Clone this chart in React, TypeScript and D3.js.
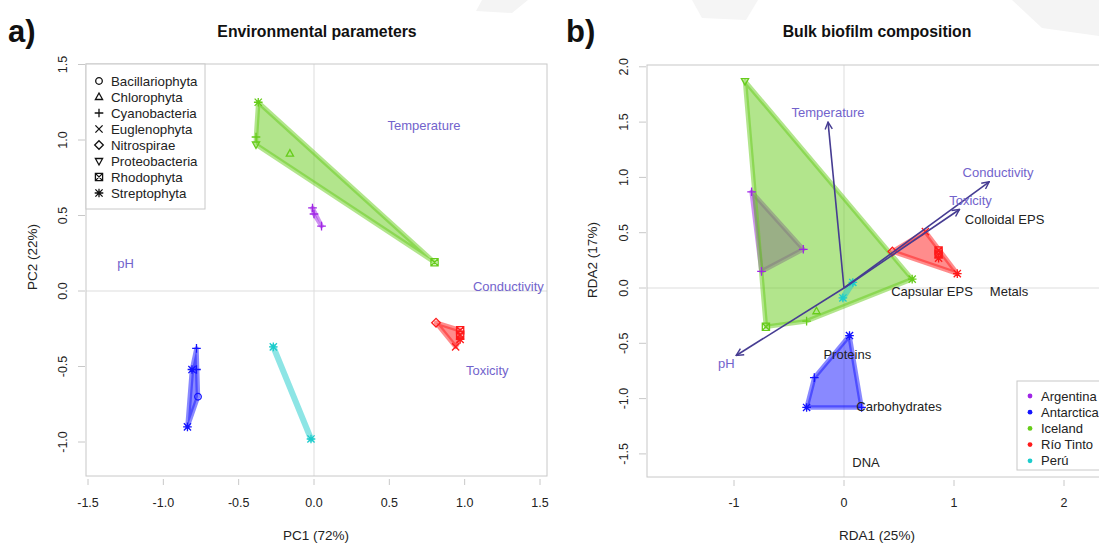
import React from "react";
import * as d3 from "d3";

// ---------- data ----------
const taxa = ["Bacillariophyta", "Chlorophyta", "Cyanobacteria", "Euglenophyta", "Nitrospirae", "Proteobacteria", "Rhodophyta", "Streptophyta"];
const taxonShapes = ["circle", "triUp", "plus", "cross", "diamond", "triDown", "squareX", "asterisk"];
const sites = ["Argentina", "Antarctica", "Iceland", "Río Tinto", "Perú"];
const siteColors = ["#A025E6", "#1414FF", "#66CC1A", "#FF1A1A", "#1CCCCC"];

// Panel a: PCA
const pcaSite = ["Iceland", "Iceland", "Iceland", "Iceland", "Iceland",
  "Argentina", "Argentina", "Argentina",
  "Antarctica", "Antarctica", "Antarctica", "Antarctica", "Antarctica",
  "Perú", "Perú",
  "Río Tinto", "Río Tinto", "Río Tinto", "Río Tinto", "Río Tinto"];
const pcaTaxon = ["Streptophyta", "Cyanobacteria", "Proteobacteria", "Chlorophyta", "Rhodophyta",
  "Cyanobacteria", "Cyanobacteria", "Cyanobacteria",
  "Cyanobacteria", "Streptophyta", "Cyanobacteria", "Bacillariophyta", "Streptophyta",
  "Streptophyta", "Streptophyta",
  "Nitrospirae", "Rhodophyta", "Rhodophyta", "Streptophyta", "Euglenophyta"];
const pcaX = [-0.37, -0.385, -0.385, -0.16, 0.80, -0.01, 0.0, 0.05, -0.78, -0.81, -0.78, -0.77, -0.84, -0.27, -0.02, 0.81, 0.97, 0.97, 0.97, 0.94];
const pcaY = [1.25, 1.02, 0.97, 0.91, 0.19, 0.55, 0.51, 0.43, -0.38, -0.52, -0.52, -0.70, -0.90, -0.37, -0.98, -0.21, -0.26, -0.29, -0.32, -0.37];

const pcaVars = ["Temperature", "pH", "Conductivity", "Toxicity"];
const pcaVarX = [0.73, -1.25, 1.29, 1.15];
const pcaVarY = [1.10, 0.185, 0.03, -0.52];

const pcaTicksX = [-1.5, -1.0, -0.5, 0.0, 0.5, 1.0, 1.5];
const pcaTicksY = [-1.0, -0.5, 0.0, 0.5, 1.0, 1.5];

// Panel b: RDA
const rdaSite = ["Iceland", "Iceland", "Iceland", "Iceland", "Iceland",
  "Argentina", "Argentina", "Argentina",
  "Río Tinto", "Río Tinto", "Río Tinto", "Río Tinto", "Río Tinto", "Río Tinto",
  "Perú", "Perú",
  "Antarctica", "Antarctica", "Antarctica", "Antarctica"];
const rdaTaxon = ["Proteobacteria", "Rhodophyta", "Cyanobacteria", "Chlorophyta", "Streptophyta",
  "Cyanobacteria", "Cyanobacteria", "Cyanobacteria",
  "Nitrospirae", "Euglenophyta", "Rhodophyta", "Rhodophyta", "Streptophyta", "Streptophyta",
  "Streptophyta", "Streptophyta",
  "Streptophyta", "Cyanobacteria", "Streptophyta", "Cyanobacteria"];
const rdaX = [-0.90, -0.71, -0.34, -0.25, 0.62, -0.84, -0.37, -0.75, 0.44, 0.74, 0.86, 0.86, 0.86, 1.03, 0.08, -0.01, 0.05, -0.27, -0.34, 0.16];
const rdaY = [1.87, -0.35, -0.30, -0.21, 0.08, 0.87, 0.35, 0.15, 0.33, 0.51, 0.34, 0.31, 0.27, 0.13, 0.05, -0.09, -0.43, -0.81, -1.08, -1.08];

const rdaVars = ["Temperature", "pH", "Conductivity", "Toxicity"];
const rdaArrowX = [-0.145, -0.98, 1.32, 1.05];
const rdaArrowY = [1.50, -0.61, 0.96, 0.71];
const rdaVarLabelX = [-0.145, -1.07, 1.40, 1.15];
const rdaVarLabelY = [1.59, -0.68, 1.05, 0.80];

const responses = ["Colloidal EPS", "Capsular EPS", "Metals", "Proteins", "Carbohydrates", "DNA"];
const responseX = [1.46, 0.80, 1.50, 0.03, 0.50, 0.20];
const responseY = [0.62, -0.03, -0.03, -0.60, -1.07, -1.57];

const rdaTicksX = [-1, 0, 1, 2];
const rdaTicksY = [-1.5, -1.0, -0.5, 0.0, 0.5, 1.0, 1.5, 2.0];

// ---------- helpers ----------
const FONT = "'Liberation Sans', Arial, Helvetica, sans-serif";
const colorOf = (s: string) => siteColors[sites.indexOf(s)];
const shapeOf = (t: string) => taxonShapes[taxa.indexOf(t)];

function Symbol({ shape, x, y, color }: { shape: string; x: number; y: number; color: string }) {
  const s = 3.6;
  const common = { stroke: color, strokeWidth: 1.3, fill: "none" };
  let el: React.ReactNode = null;
  switch (shape) {
    case "circle":
      el = <circle cx={0} cy={0} r={3.3} {...common} />;
      break;
    case "triUp":
      el = <path d={`M0,${-s * 1.1}L${s},${s * 0.7}L${-s},${s * 0.7}Z`} {...common} />;
      break;
    case "triDown":
      el = <path d={`M0,${s * 1.1}L${s},${-s * 0.7}L${-s},${-s * 0.7}Z`} {...common} />;
      break;
    case "plus":
      el = <path d={`M${-s * 1.2},0H${s * 1.2}M0,${-s * 1.2}V${s * 1.2}`} {...common} />;
      break;
    case "cross":
      el = <path d={`M${-s},${-s}L${s},${s}M${-s},${s}L${s},${-s}`} {...common} />;
      break;
    case "diamond":
      el = <path d={`M0,${-s * 1.2}L${s * 1.2},0L0,${s * 1.2}L${-s * 1.2},0Z`} {...common} />;
      break;
    case "squareX":
      el = <path d={`M${-s},${-s}H${s}V${s}H${-s}ZM${-s},${-s}L${s},${s}M${-s},${s}L${s},${-s}`} {...common} />;
      break;
    case "asterisk":
      el = <path d={`M${-s * 1.2},0H${s * 1.2}M0,${-s * 1.2}V${s * 1.2}M${-s},${-s}L${s},${s}M${-s},${s}L${s},${-s}`} {...common} />;
      break;
  }
  return <g transform={`translate(${x},${y})`}>{el}</g>;
}

function Hulls({ siteArr, xs, ys, sx, sy }: any) {
  return (
    <g>
      {sites.map((site) => {
        const pts: [number, number][] = [];
        siteArr.forEach((s: string, i: number) => {
          if (s === site) pts.push([sx(xs[i]), sy(ys[i])]);
        });
        const c = colorOf(site);
        if (pts.length === 0) return null;
        if (pts.length < 3) {
          return (
            <line key={site} x1={pts[0][0]} y1={pts[0][1]} x2={pts[pts.length - 1][0]} y2={pts[pts.length - 1][1]}
              stroke={c} strokeOpacity={0.5} strokeWidth={6} strokeLinecap="round" />
          );
        }
        const hull = d3.polygonHull(pts) || pts;
        const d = "M" + hull.map((p) => p.join(",")).join("L") + "Z";
        return (
          <path key={site} d={d} fill={c} fillOpacity={0.5} stroke={c} strokeOpacity={0.5} strokeWidth={4.5} strokeLinejoin="round" />
        );
      })}
    </g>
  );
}

// ---------- App ----------
export default function App() {
  // Panel a scales
  const aBox = { l: 86, r: 547, t: 64, b: 476 };
  const ax = d3.scaleLinear().domain([-1.5, 1.5]).range([88, 540]);
  const ay = d3.scaleLinear().domain([0, 1.5]).range([291, 64.5]);

  // Panel b scales
  const bBox = { l: 647, r: 1110, t: 65, b: 477 };
  const bx = d3.scaleLinear().domain([0, 1]).range([844, 954]);
  const by = d3.scaleLinear().domain([0, 1]).range([288, 177.4]);

  const grey = "#c8c8c8";
  const txt = "#222";
  const varCol = "#7263CC";
  const arrowCol = "#463C92";

  return (
    <svg width={1099} height={543} style={{ position: "absolute", left: 0, top: 0, background: "#fff" }} fontFamily={FONT}>
      <defs>
        <marker id="arrowhead" viewBox="0 0 10 10" refX={9} refY={5} markerWidth={9} markerHeight={9} orient="auto" markerUnits="userSpaceOnUse">
          <path d="M1,1L9,5L1,9" fill="none" stroke={arrowCol} strokeWidth={1.6} />
        </marker>
        <clipPath id="clipB">
          <rect x={bBox.l} y={bBox.t} width={bBox.r - bBox.l} height={bBox.b - bBox.t} />
        </clipPath>
      </defs>
      <rect x={0} y={0} width={1099} height={543} fill="#fff" />

      {/* faint watermark shapes */}
      <path d="M482,0L528,0L512,13L476,11Z" fill="#f4f4f4" />
      <path d="M692,0L758,0L746,20L702,18Z" fill="#f5f5f5" />
      <path d="M1012,0L1099,0L1099,36L1042,28Z" fill="#f4f4f4" />

      {/* ====== Panel a ====== */}
      <text x={8} y={42} fontSize={31} fontWeight="bold" fill="#111">a)</text>
      <text x={317} y={37} fontSize={15.8} fontWeight="bold" textAnchor="middle" fill="#111">Environmental parameters</text>

      {/* zero lines */}
      <line x1={ax(0)} x2={ax(0)} y1={aBox.t} y2={aBox.b} stroke="#ddd" strokeWidth={1} />
      <line x1={aBox.l} x2={aBox.r} y1={ay(0)} y2={ay(0)} stroke="#ddd" strokeWidth={1} />

      {/* box */}
      <rect x={aBox.l} y={aBox.t} width={aBox.r - aBox.l} height={aBox.b - aBox.t} fill="none" stroke={grey} strokeWidth={1} />

      {/* axes */}
      {pcaTicksX.map((t) => (
        <g key={"ax" + t}>
          <line x1={ax(t)} x2={ax(t)} y1={aBox.b + 3} y2={aBox.b + 9} stroke={grey} />
          <text x={ax(t)} y={507} fontSize={12.5} textAnchor="middle" fill={txt}>{t.toFixed(1)}</text>
        </g>
      ))}
      {pcaTicksY.map((t) => (
        <g key={"ay" + t}>
          <line x1={aBox.l - 8} x2={aBox.l - 1} y1={ay(t)} y2={ay(t)} stroke={grey} />
          <text transform={`translate(67,${ay(t)}) rotate(-90)`} fontSize={12.5} textAnchor="middle" fill={txt}>{t.toFixed(1)}</text>
        </g>
      ))}
      <text x={316} y={540} fontSize={13.5} textAnchor="middle" fill={txt}>PC1 (72%)</text>
      <text transform={`translate(37,257) rotate(-90)`} fontSize={13.5} textAnchor="middle" fill={txt}>PC2 (22%)</text>

      {/* hulls and points */}
      <Hulls siteArr={pcaSite} xs={pcaX} ys={pcaY} sx={ax} sy={ay} />
      {pcaX.map((v, i) => (
        <Symbol key={"pa" + i} shape={shapeOf(pcaTaxon[i])} x={ax(v)} y={ay(pcaY[i])} color={colorOf(pcaSite[i])} />
      ))}

      {/* env variables */}
      {pcaVars.map((v, i) => (
        <text key={"pv" + v} x={ax(pcaVarX[i])} y={ay(pcaVarY[i]) + 5} fontSize={13} textAnchor="middle" fill={varCol}>{v}</text>
      ))}

      {/* legend a */}
      <rect x={aBox.l} y={aBox.t} width={119} height={145} fill="#fff" stroke={grey} strokeWidth={1} />
      {taxa.map((t, i) => (
        <g key={"la" + t}>
          <Symbol shape={taxonShapes[i]} x={99} y={81 + i * 16} color="#111" />
          <text x={111} y={81 + i * 16 + 4.5} fontSize={13.3} fill={txt}>{t}</text>
        </g>
      ))}

      {/* ====== Panel b ====== */}
      <text x={566} y={42} fontSize={31} fontWeight="bold" fill="#111">b)</text>
      <text x={877} y={37} fontSize={15.8} fontWeight="bold" textAnchor="middle" fill="#111">Bulk biofilm composition</text>

      <line x1={bx(0)} x2={bx(0)} y1={bBox.t} y2={bBox.b} stroke="#ddd" strokeWidth={1} />
      <line x1={bBox.l} x2={bBox.r} y1={by(0)} y2={by(0)} stroke="#ddd" strokeWidth={1} />
      <rect x={bBox.l} y={bBox.t} width={bBox.r - bBox.l} height={bBox.b - bBox.t} fill="none" stroke={grey} strokeWidth={1} />

      {rdaTicksX.map((t) => (
        <g key={"bx" + t}>
          <line x1={bx(t)} x2={bx(t)} y1={bBox.b + 3} y2={bBox.b + 9} stroke={grey} />
          <text x={bx(t)} y={507} fontSize={12.5} textAnchor="middle" fill={txt}>{t}</text>
        </g>
      ))}
      {rdaTicksY.map((t) => (
        <g key={"by" + t}>
          <line x1={bBox.l - 8} x2={bBox.l - 1} y1={by(t)} y2={by(t)} stroke={grey} />
          <text transform={`translate(628,${by(t)}) rotate(-90)`} fontSize={12.5} textAnchor="middle" fill={txt}>{t.toFixed(1)}</text>
        </g>
      ))}
      <text x={877} y={540} fontSize={13.5} textAnchor="middle" fill={txt}>RDA1 (25%)</text>
      <text transform={`translate(597,260) rotate(-90)`} fontSize={13.5} textAnchor="middle" fill={txt}>RDA2 (17%)</text>

      <g clipPath="url(#clipB)">
        <Hulls siteArr={rdaSite} xs={rdaX} ys={rdaY} sx={bx} sy={by} />
        {rdaX.map((v, i) => (
          <Symbol key={"pb" + i} shape={shapeOf(rdaTaxon[i])} x={bx(v)} y={by(rdaY[i])} color={colorOf(rdaSite[i])} />
        ))}

        {rdaVars.map((v, i) => (
          <line key={"arr" + v} x1={bx(0)} y1={by(0)} x2={bx(rdaArrowX[i])} y2={by(rdaArrowY[i])}
            stroke={arrowCol} strokeWidth={1.6} markerEnd="url(#arrowhead)" />
        ))}
        {rdaVars.map((v, i) => (
          <text key={"bv" + v} x={bx(rdaVarLabelX[i])} y={by(rdaVarLabelY[i]) + 5} fontSize={13} textAnchor="middle" fill={varCol}>{v}</text>
        ))}
        {responses.map((v, i) => (
          <text key={"rs" + v} x={bx(responseX[i])} y={by(responseY[i]) + 5} fontSize={13} textAnchor="middle" fill={txt}>{v}</text>
        ))}
      </g>

      {/* legend b */}
      <rect x={1017} y={381} width={100} height={89} fill="#fff" stroke={grey} strokeWidth={1} />
      {sites.map((s, i) => (
        <g key={"lb" + s}>
          <circle cx={1030} cy={396 + i * 16.2} r={2.4} fill={siteColors[i]} />
          <text x={1041} y={396 + i * 16.2 + 4.5} fontSize={13} fill={txt}>{s}</text>
        </g>
      ))}
    </svg>
  );
}
